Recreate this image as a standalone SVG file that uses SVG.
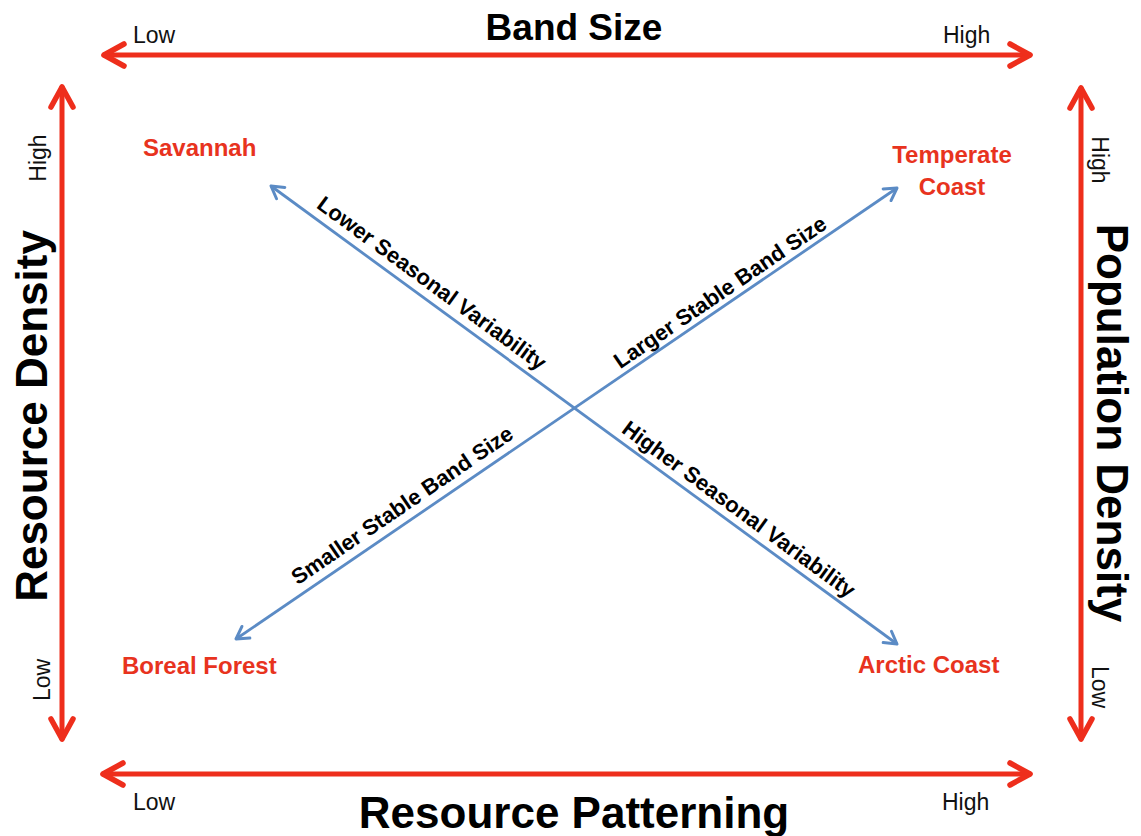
<svg xmlns="http://www.w3.org/2000/svg" width="1141" height="836" viewBox="0 0 1141 836">
  <style>
    .axis { stroke: #ee2e1c; stroke-width: 5; fill: none; stroke-linecap: round; }
    .trend { stroke: #5b8bc5; stroke-width: 2.8; fill: none; }
    .title { font-family: "Liberation Sans", Arial, sans-serif; font-weight: bold; font-size: 44px; fill: #000; }
    .title-small { font-size: 37px; }
    .tick { font-family: "Liberation Sans", Arial, sans-serif; font-size: 23px; fill: #111; }
    .place { font-family: "Liberation Sans", Arial, sans-serif; font-weight: bold; font-size: 24px; fill: #e8331e; }
    .trendlabel { font-family: "Liberation Sans", Arial, sans-serif; font-weight: bold; font-size: 22px; fill: #000; }
  </style>
  <defs>
    <marker id="redHead" markerUnits="userSpaceOnUse" markerWidth="40" markerHeight="40" refX="0" refY="0" viewBox="-30 -20 40 40" orient="auto-start-reverse" overflow="visible">
      <path d="M-20,-11 L0,0 L-20,11" fill="none" stroke="#ee2e1c" stroke-width="5.5" stroke-linecap="round" stroke-linejoin="round"/>
    </marker>
    <marker id="blueHead" markerUnits="userSpaceOnUse" markerWidth="30" markerHeight="30" refX="0" refY="0" viewBox="-20 -15 30 30" orient="auto-start-reverse" overflow="visible">
      <path d="M-12,-7 L0,0 L-12,7" fill="none" stroke="#5b8bc5" stroke-width="3" stroke-linecap="round" stroke-linejoin="round"/>
    </marker>
  </defs>

  <rect width="1141" height="836" fill="#fff"/>

  <!-- axes -->
  <g id="axes">
    <line class="axis" x1="104" y1="55" x2="1030" y2="55" marker-start="url(#redHead)" marker-end="url(#redHead)"/>
    <line class="axis" x1="103" y1="774" x2="1030" y2="774" marker-start="url(#redHead)" marker-end="url(#redHead)"/>
    <line class="axis" x1="62" y1="87" x2="62" y2="739" marker-start="url(#redHead)" marker-end="url(#redHead)"/>
    <line class="axis" x1="1081" y1="88" x2="1081" y2="739" marker-start="url(#redHead)" marker-end="url(#redHead)"/>
  </g>

  <!-- axis titles and tick labels -->
  <g id="axis-band-size">
    <text class="title title-small" x="574" y="40" text-anchor="middle">Band Size</text>
    <text class="tick" x="133" y="43">Low</text>
    <text class="tick" x="943" y="43">High</text>
  </g>
  <g id="axis-resource-patterning">
    <text class="title" x="574" y="828" text-anchor="middle">Resource Patterning</text>
    <text class="tick" x="133" y="810">Low</text>
    <text class="tick" x="942" y="810">High</text>
  </g>
  <g id="axis-resource-density">
    <text class="title" transform="translate(47,416) rotate(-90)" text-anchor="middle">Resource Density</text>
    <text class="tick" transform="translate(46,158) rotate(-90)" text-anchor="middle">High</text>
    <text class="tick" transform="translate(50,680) rotate(-90)" text-anchor="middle">Low</text>
  </g>
  <g id="axis-population-density">
    <text class="title" transform="translate(1097,423) rotate(90)" text-anchor="middle">Population Density</text>
    <text class="tick" transform="translate(1092,160) rotate(90)" text-anchor="middle">High</text>
    <text class="tick" transform="translate(1092,687) rotate(90)" text-anchor="middle">Low</text>
  </g>

  <!-- environments -->
  <g id="node-savannah">
    <text class="place" x="143" y="156">Savannah</text>
  </g>
  <g id="node-temperate-coast">
    <text class="place" x="952" y="163" text-anchor="middle">Temperate</text>
    <text class="place" x="952" y="195" text-anchor="middle">Coast</text>
  </g>
  <g id="node-boreal-forest">
    <text class="place" x="122" y="674">Boreal Forest</text>
  </g>
  <g id="node-arctic-coast">
    <text class="place" x="858" y="673">Arctic Coast</text>
  </g>

  <!-- trend lines, double-headed -->
  <g id="connectors">
    <line class="trend" x1="271" y1="186" x2="897" y2="644" marker-start="url(#blueHead)" marker-end="url(#blueHead)"/>
    <line class="trend" x1="236" y1="639" x2="897" y2="188" marker-start="url(#blueHead)" marker-end="url(#blueHead)"/>
    <text class="trendlabel" transform="translate(432,283) rotate(36.2)" text-anchor="middle" dy="0.35em">Lower Seasonal Variability</text>
    <text class="trendlabel" transform="translate(739,509) rotate(36.2)" text-anchor="middle" dy="0.35em">Higher Seasonal Variability</text>
    <text class="trendlabel" transform="translate(720,292) rotate(-34.3)" text-anchor="middle" dy="0.35em">Larger Stable Band Size</text>
    <text class="trendlabel" transform="translate(402,505) rotate(-34.3)" text-anchor="middle" dy="0.35em">Smaller Stable Band Size</text>
  </g>
</svg>
